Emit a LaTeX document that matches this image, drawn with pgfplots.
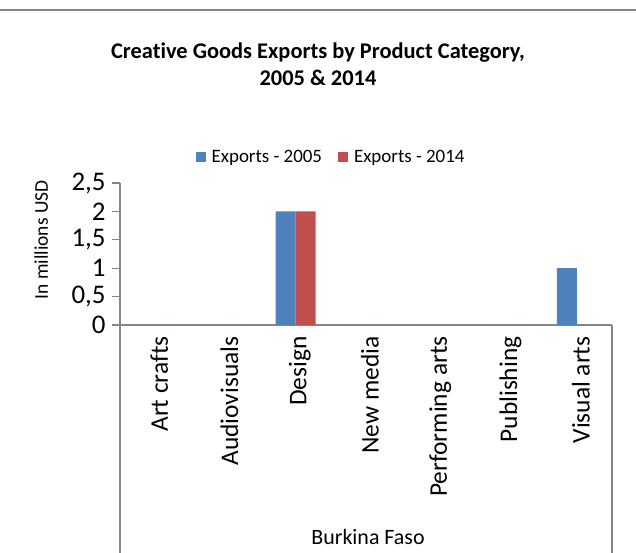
\documentclass[border=0pt]{standalone}
\usepackage{pgfplots}
\pgfplotsset{compat=1.18}
\usepackage{fontspec}
\setmainfont{Carlito}[Ligatures=NoCommon]
\definecolor{exblue}{HTML}{4F81BD}
\definecolor{exred}{HTML}{C0504D}
\definecolor{axgray}{HTML}{868686}
\begin{document}
\begin{tikzpicture}
\path[use as bounding box] (0,0) rectangle (636bp,553bp);
\draw[axgray, line width=1.5bp] (0,543bp) -- (636bp,543bp);
\node[align=center, font=\fontsize{22.5}{27}\selectfont\bfseries] at (318bp,489bp) {Creative Goods Exports by Product Category,\\2005 \& 2014};
\begin{axis}[
  at={(120bp,228bp)}, anchor=south west,
  scale only axis, width=492bp, height=142bp,
  ybar=0pt, bar width=20bp,
  xmin=-0.5, xmax=6.5, ymin=0, ymax=2.5,
  axis x line*=bottom, axis y line*=left,
  axis line style={axgray, line width=1.3bp},
  tick align=outside, major tick length=8bp,
  y tick style={axgray, line width=1.3bp},
  x tick style={draw=none},
  ytick={0,0.5,1,1.5,2,2.5},
  yticklabels={0,{0,5},1,{1,5},2,{2,5}},
  yticklabel style={font=\fontsize{27}{30}\selectfont, xshift=-3bp},
  xtick={0,1,2,3,4,5,6},
  xticklabels={Art crafts,Audiovisuals,Design,New media,Performing arts,Publishing,Visual arts},
  xticklabel style={rotate=90, anchor=east, font=\fontsize{25.5}{28}\selectfont, yshift=-4bp},
  ylabel={In millions USD},
  ylabel style={font=\fontsize{19.5}{23}\selectfont, at={(axis description cs:-0.16,0.6)}, anchor=center, rotate=0},
  legend style={at={(axis description cs:0.429,1.183)}, anchor=center, draw=none, fill=none,
    legend columns=2, font=\fontsize{19}{22}\selectfont,
    /tikz/every odd column/.append style={column sep=4bp},
    /tikz/every even column/.append style={column sep=14bp}},
  legend image code/.code={\fill[#1] (0bp,-5bp) rectangle (10bp,5bp);},
]
\addplot[fill=exblue, draw=none] coordinates {(0,0) (1,0) (2,2) (3,0) (4,0) (5,0) (6,1)};
\addlegendentry{Exports - 2005}
\addplot[fill=exred, draw=none] coordinates {(0,0) (1,0) (2,2) (3,0) (4,0) (5,0) (6,0)};
\addlegendentry{Exports - 2014}
\end{axis}
\draw[axgray, line width=1.3bp] (120bp,0) -- (120bp,228bp);
\draw[axgray, line width=1.3bp] (612bp,0) -- (612bp,228bp);
\node[font=\fontsize{22}{26}\selectfont] at (368bp,16bp) {Burkina Faso};
\end{tikzpicture}
\end{document}
